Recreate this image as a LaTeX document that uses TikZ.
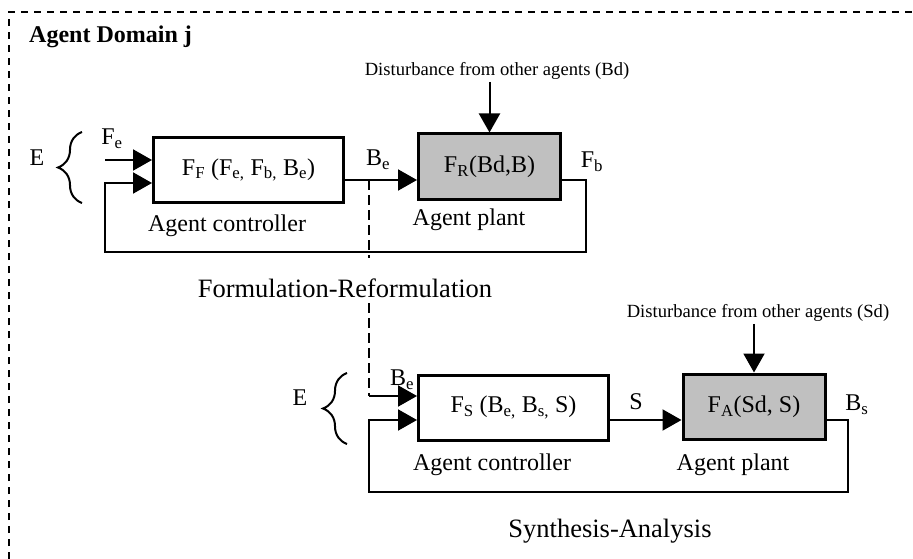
\documentclass[tikz,border=0pt]{standalone}
\usepackage{fontspec}
\setmainfont{Liberation Serif}
\usetikzlibrary{arrows.meta,decorations.pathreplacing}
\definecolor{grisPlanta}{HTML}{C0C0C0}

\begin{document}
\begin{tikzpicture}[x=1pt,y=-1pt,>={Triangle[length=19pt,width=21pt]},
  every node/.style={font=\fontsize{24}{28}\selectfont,inner sep=0pt},
  ctrl/.style={draw,line width=3pt,minimum width=190pt,minimum height=65pt},
  plant/.style={ctrl,fill=grisPlanta,minimum width=142pt},
  dist/.style={font=\fontsize{18.6}{22}\selectfont,inner sep=2pt},
  loopname/.style={font=\fontsize{26.5}{30}\selectfont},
  flow/.style={line width=2pt,->},
  link/.style={line width=2pt,dash pattern=on 10pt off 5pt},
  frame/.style={line width=2pt,dash pattern=on 7pt off 6pt},
  ebrace/.style={line width=2pt,decorate,decoration={brace,amplitude=24pt}}]
  \useasboundingbox (0,0) rectangle (913,559);
  \draw[frame] (9,559) |- (913,12);
  \node[anchor=west,font=\fontsize{24}{28}\selectfont\bfseries] (dom) at (29,37) {Agent Domain j};

  % Formulation-Reformulation
  \node[ctrl] (ff) at (248.5,170) {F\textsubscript{F} (F\textsubscript{e,} F\textsubscript{b,} B\textsubscript{e})};
  \node[plant] (fr) at (489.5,166.5) {F\textsubscript{R}(Bd,B)};
  \node[dist] (bd) at (497,71) {Disturbance from other agents (Bd)};
  \node (eUp) at (37,158) {E};
  \node (feLab) at (112,139) {F\textsubscript{e}};
  \node (beLab) at (378,160) {B\textsubscript{e}};
  \node (fbLab) at (592,162) {F\textsubscript{b}};
  \node (ctrlUp) at (227,226) {Agent controller};
  \node (plantUp) at (469,220) {Agent plant};
  \node[loopname] (titFR) at (345,288) {Formulation-Reformulation};
  \draw[ebrace] (82,203) -- (82,132);
  \coordinate (feIn) at (105,160);
  \coordinate (fbUp) at (105,183);
  \coordinate (loopUp) at (586,252);
  \coordinate (beTap) at (369,180);
  \coordinate (linkA) at (369,258);
  \coordinate (linkB) at (369,303);
  \draw[flow] (bd.south -| fr.north) -- (fr.north);
  \draw[flow] (feIn) -- (feIn -| ff.west);
  \draw[flow] (ff.east |- beTap) -- (fr.west |- beTap);
  \draw[flow] (fr.east |- beTap) -| (loopUp) -| (fbUp) -- (fbUp -| ff.west);

  % Synthesis-Analysis
  \node[ctrl] (fs) at (513.5,407.5) {F\textsubscript{S} (B\textsubscript{e,} B\textsubscript{s,} S)};
  \node[plant] (fa) at (754,406.5) {F\textsubscript{A}(Sd, S)};
  \node[dist] (sd) at (758,313) {Disturbance from other agents (Sd)};
  \node (eLow) at (300,398) {E};
  \node (beLow) at (402,380) {B\textsubscript{e}};
  \node (sLab) at (636,402) {S};
  \node (bsLab) at (857,405) {B\textsubscript{s}};
  \node (ctrlLow) at (492,465) {Agent controller};
  \node (plantLow) at (733,465) {Agent plant};
  \node[loopname] (titSA) at (610,531) {Synthesis-Analysis};
  \draw[ebrace] (347,444) -- (347,373);
  \coordinate (beIn) at (369,396);
  \coordinate (fbLow) at (369,420);
  \coordinate (loopLow) at (848,492);
  \draw[link] (beTap) -- (linkA);
  \draw[link] (linkB) -- (beIn);
  \draw[flow] (beIn) -- (beIn -| fs.west);
  \draw[flow] (sd.south -| fa.north) -- (fa.north);
  \draw[flow] (fs.east |- fbLow) -- (fa.west |- fbLow);
  \draw[flow] (fa.east |- fbLow) -| (loopLow) -| (fbLow) -- (fbLow -| fs.west);
\end{tikzpicture}
\end{document}
